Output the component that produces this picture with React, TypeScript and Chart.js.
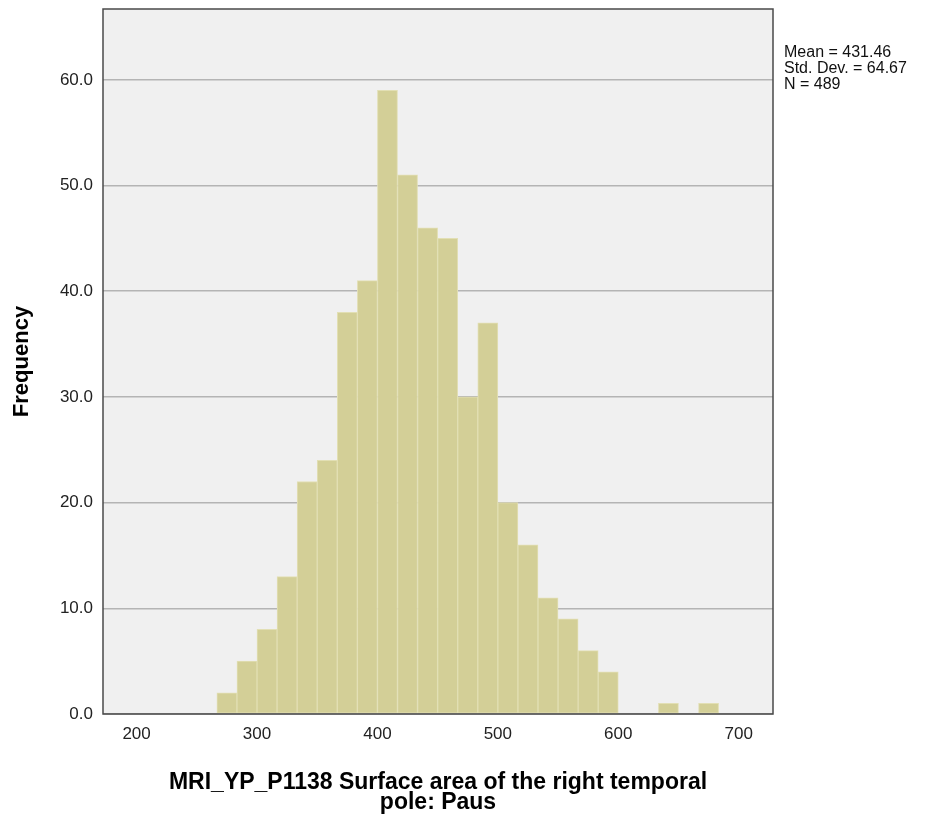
import React, { useEffect, useRef } from "react";
import { Chart, registerables } from "chart.js";

Chart.register(...registerables);

// Histogram bins (bin centres, width ≈ 16.67) and frequencies
const binCenters = [
  275.0, 291.67, 308.33, 325.0, 341.67, 358.33, 375.0, 391.67, 408.33, 425.0,
  441.67, 458.33, 475.0, 491.67, 508.33, 525.0, 541.67, 558.33, 575.0, 591.67,
  608.33, 625.0, 641.67, 658.33, 675.0,
];
const frequencies = [
  2, 5, 8, 13, 22, 24, 38, 41, 59, 51,
  46, 45, 30, 37, 20, 16, 11, 9, 6, 4,
  0, 0, 1, 0, 1,
];
const xTickValues = [200, 300, 400, 500, 600, 700];
const yTickValues = [0, 10, 20, 30, 40, 50, 60];
const statsLines = ["Mean = 431.46", "Std. Dev. = 64.67", "N = 489"];
const xTitle = ["MRI_YP_P1138 Surface area of the right temporal", "pole: Paus"];
const yTitle = "Frequency";

const FONT = "'Liberation Sans', Arial, sans-serif";

export default function App() {
  const canvasRef = useRef<HTMLCanvasElement | null>(null);

  useEffect(() => {
    const canvas = canvasRef.current;
    if (!canvas) return;

    const bgPlugin = {
      id: "plotBg",
      beforeDraw(chart: any) {
        const { ctx, chartArea } = chart;
        ctx.save();
        ctx.fillStyle = "#f0f0f0";
        ctx.fillRect(chartArea.left, chartArea.top, chartArea.right - chartArea.left, chartArea.bottom - chartArea.top);
        ctx.restore();
      },
      afterDatasetsDraw(chart: any) {
        const { ctx, chartArea } = chart;
        ctx.save();
        ctx.strokeStyle = "#4a4a4a";
        ctx.lineWidth = 1.5;
        ctx.strokeRect(chartArea.left, chartArea.top, chartArea.right - chartArea.left, chartArea.bottom - chartArea.top);
        ctx.restore();
      },
    };

    const zeroPad = (s: any) => {
      s.paddingTop = 0;
      s.paddingBottom = 0;
      s.paddingLeft = 0;
      s.paddingRight = 0;
    };

    const chart = new Chart(canvas, {
      type: "bar",
      data: {
        datasets: [
          {
            data: binCenters.map((x, i) => ({ x, y: frequencies[i] })),
            backgroundColor: "rgb(211,207,151)",
            borderColor: "rgb(226,223,180)",
            borderWidth: 1,
            borderSkipped: false,
            barPercentage: 1,
            categoryPercentage: 1,
          },
        ],
      },
      options: {
        animation: false,
        responsive: false,
        maintainAspectRatio: false,
        layout: { padding: { left: 0, right: 154, top: 9, bottom: 0 } },
        plugins: {
          legend: { display: false },
          tooltip: { enabled: false },
        },
        scales: {
          x: {
            type: "linear",
            offset: false,
            min: 172.1,
            max: 728.5,
            afterFit: (s: any) => {
              s.height = 109;
              zeroPad(s);
            },
            afterBuildTicks: (s: any) => {
              s.ticks = xTickValues.map((v) => ({ value: v }));
            },
            grid: { display: false, drawTicks: false, tickLength: 0, offset: false },
            border: { display: false },
            ticks: {
              padding: 12,
              color: "#222",
              font: { family: FONT, size: 17, lineHeight: 1 },
              maxRotation: 0,
              autoSkip: false,
              callback: (v: any) => String(v),
            },
            title: {
              display: true,
              text: xTitle,
              color: "#000",
              font: { family: FONT, size: 23, weight: "bold", lineHeight: "20px" },
              padding: { top: 0, bottom: 10 },
            },
          },
          y: {
            type: "linear",
            min: 0,
            max: 66.7,
            afterFit: (s: any) => {
              s.width = 103;
              zeroPad(s);
            },
            afterBuildTicks: (s: any) => {
              s.ticks = yTickValues.map((v) => ({ value: v }));
            },
            grid: { color: "#b4b4b4", lineWidth: 1.5, drawTicks: false, tickLength: 0 },
            border: { display: false },
            ticks: {
              padding: 10,
              color: "#222",
              font: { family: FONT, size: 17, lineHeight: 1 },
              callback: (v: any) => Number(v).toFixed(1),
            },
            title: {
              display: true,
              text: yTitle,
              color: "#000",
              font: { family: FONT, size: 22, weight: "bold", lineHeight: 1.2 },
              padding: { top: 9, bottom: 0 },
            },
          },
        },
      },
      plugins: [bgPlugin],
    } as any);

    return () => chart.destroy();
  }, []);

  return (
    <div style={{ position: "fixed", left: 0, top: 0, width: 927, height: 823, background: "#fff" }}>
      <canvas ref={canvasRef} width={927} height={823} style={{ width: 927, height: 823, display: "block" }} />
      <div
        style={{
          position: "absolute",
          left: 784,
          top: 44,
          fontFamily: FONT,
          fontSize: 16,
          lineHeight: "16px",
          color: "#111",
          whiteSpace: "nowrap",
        }}
      >
        {statsLines.map((t) => (
          <div key={t}>{t}</div>
        ))}
      </div>
    </div>
  );
}
